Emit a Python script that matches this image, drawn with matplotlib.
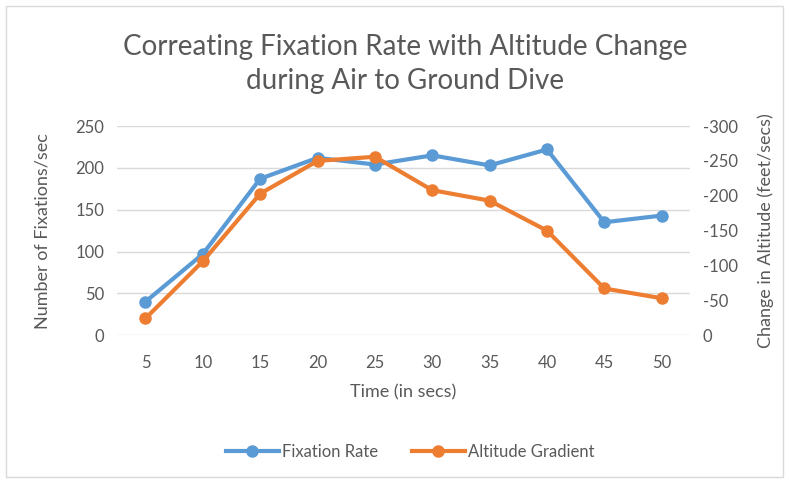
import matplotlib.pyplot as plt
from matplotlib.patches import Rectangle

# chart data
time_secs = ['5', '10', '15', '20', '25', '30', '35', '40', '45', '50']
fixation_rate = [40, 97, 187, 212, 204, 215, 203, 222, 135, 143]
altitude_gradient = [-24, -106, -203, -250, -256, -208, -193, -150, -67, -53]
left_ticks = [0, 50, 100, 150, 200, 250]
right_ticks = [0, -50, -100, -150, -200, -250, -300]

blue = '#5B9BD5'
orange = '#ED7D31'
grey_text = '#595959'

plt.rcParams['font.family'] = ['Lato', 'DejaVu Sans']
plt.rcParams['axes.unicode_minus'] = False

fig = plt.figure(figsize=(7.89, 4.83), dpi=100)
fig.patches.append(Rectangle((0.008, 0.012), 0.984, 0.975, transform=fig.transFigure,
                             fill=False, edgecolor='#D9D9D9', linewidth=1))

ax = fig.add_axes([0.148, 0.306, 0.727, 0.433])
ax2 = ax.twinx()

x = range(len(time_secs))
ax.plot(x, fixation_rate, color=blue, lw=3, marker='o', ms=8, label='Fixation Rate', zorder=3)
ax2.plot(x, altitude_gradient, color=orange, lw=3, marker='o', ms=8, label='Altitude Gradient', zorder=3)

ax.set_xlim(-0.5, len(time_secs) - 0.5)
ax.set_ylim(0, 250)
ax.set_yticks(left_ticks)
ax2.set_ylim(0, -300)
ax2.set_yticks(right_ticks)
ax.set_xticks(list(x))
ax.set_xticklabels(time_secs)

ax.grid(axis='y', color='#D9D9D9', lw=1)
ax.set_axisbelow(True)
for a in (ax, ax2):
    for s in a.spines.values():
        s.set_visible(False)
    a.tick_params(length=0, labelsize=12, colors=grey_text, pad=9)
ax.tick_params(axis='x', pad=14)

ax.set_xlabel('Time (in secs)', fontsize=13, color=grey_text, labelpad=10)
ax.set_ylabel('Number of Fixations/sec', fontsize=13, color=grey_text, labelpad=18)
ax2.set_ylabel('Change in Altitude (feet/secs)', fontsize=13, color=grey_text, labelpad=14)

fig.text(0.513, 0.868, 'Correating Fixation Rate with Altitude Change\nduring Air to Ground Dive',
         ha='center', va='center', fontsize=20, color=grey_text, linespacing=1.4)

h1, l1 = ax.get_legend_handles_labels()
h2, l2 = ax2.get_legend_handles_labels()
fig.legend(h1 + h2, l1 + l2, loc='center', bbox_to_anchor=(0.52, 0.064), ncol=2,
           frameon=False, fontsize=12, labelcolor=grey_text, handlelength=3.2,
           handletextpad=0.2, columnspacing=2)

fig.savefig('out.png', dpi=100)
